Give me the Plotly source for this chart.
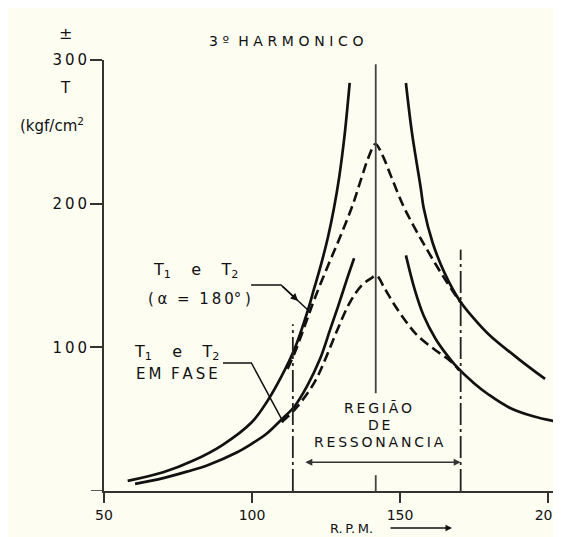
import plotly.graph_objects as go

# ---------------- data ----------------
# undamped, T1 e T2 (alpha = 180 deg) - outer solid curve
rpm_180_left = [58, 70, 80, 90, 100, 105, 110, 114.4, 118.6, 121, 123.5,
                125.7, 127.7, 129.5, 131.3, 133]
T_180_left = [7, 13, 21, 32, 48, 62, 80, 99, 124, 141, 159,
              177, 197, 219, 248, 284]
rpm_180_right = [152, 154, 157, 158, 161, 165, 170, 175, 180, 190, 199]
T_180_right = [284, 250, 211, 197, 173, 152, 133, 120, 109, 92, 78]

# undamped, T1 e T2 em fase - inner solid curve
rpm_fase_left = [60.5, 70, 78, 85, 95, 100, 105, 109.9, 114.4, 118.6, 123,
                 126.5, 129, 132, 134.5]
T_fase_left = [5, 9, 13.5, 18, 27, 33, 40, 49.6, 59, 73, 92,
               113, 128, 147, 162]
rpm_fase_right = [152, 155, 158, 162, 165, 168.5, 175, 180, 187, 195, 203.5]
T_fase_right = [164, 140, 122, 106, 97, 88, 75, 67, 58, 52, 48]

# damped responses (dashed)
rpm_180_damped = [112, 114.4, 118, 121, 125.7, 130, 134, 137, 139.5, 141.7,
                  144, 147, 151, 155, 158.3, 162, 165, 168.5, 171]
T_180_damped = [85, 96, 116, 133, 157, 178, 199, 218, 233, 241.5,
                234, 219, 199, 183, 171, 158, 148, 137, 130]
rpm_fase_damped = [110, 115, 121.2, 125, 129, 133, 137, 140.2, 142,
                   144.8, 148, 152, 156, 162, 167.3, 170]
T_fase_damped = [48, 58, 76, 93, 113, 131, 143, 148, 150,
                 141, 130, 118, 108, 98, 90, 84]

# resonance markers
rpm_resonance = 141.8
rpm_region = [113.8, 170.5]
T_center_low = [0, 11]
T_center_high = [68, 297]
T_left_bound = [0, 116]
T_right_bound = [0, 168]
T_region_arrow = 20
rpm_region_arrow = [117.5, 170.5]

x_ticks = [50, 100, 150, 200]
y_ticks = [100, 200, 300]
y_tick_text = ["1\u20090\u20090", "2\u20090\u20090", "3\u20090\u20090"]

# ---------------- figure ----------------
INK = "#111111"
BG = "#fdfdf2"
FONT = "DejaVu Sans"

fig = go.Figure()

def line(x, y, width=2.7, dash="solid", color=INK, shape="spline"):
    fig.add_trace(go.Scatter(x=x, y=y, mode="lines", line_shape=shape,
                             line=dict(color=color, width=width, dash=dash),
                             hoverinfo="skip", showlegend=False))

line(rpm_180_left, T_180_left)
line(rpm_180_right, T_180_right)
line(rpm_fase_left, T_fase_left)
line(rpm_fase_right, T_fase_right)
line(rpm_180_damped, T_180_damped, width=2.6, dash="10px,5px")
line(rpm_fase_damped, T_fase_damped, width=2.6, dash="10px,5px")

# centre resonance line
line([rpm_resonance] * 2, T_center_low, width=1.8, color="#444", shape="linear")
line([rpm_resonance] * 2, T_center_high, width=1.8, color="#444", shape="linear")
# region bounds
line([rpm_region[0]] * 2, T_left_bound, width=1.8, dash="22px,4px,3px,4px",
     color="#222", shape="linear")
line([rpm_region[1]] * 2, T_right_bound, width=1.8, dash="22px,4px,3px,4px",
     color="#222", shape="linear")

# leader lines for labels (data coords)
line([99.7, 109.8, 118.9], [143.4, 143.4, 126], width=1.5, shape="linear")
line([90.2, 99.8, 110.6], [89.1, 89.1, 47.8], width=1.5, shape="linear")

# x-axis extension left of y-axis
fig.add_shape(type="line", xref="paper", yref="y", x0=-0.028, x1=0, y0=0, y1=0,
              line=dict(color="#333", width=1.6))

W, H = 561, 537
L, R, T, B = 96, 0, 52, 54
pw, ph = W - L - R, H - T - B

def px(x):
    return (x - L) / pw

def py(y):
    return (H - B - y) / ph

def txt(s, x, y, size=15, xanchor="center", yanchor="middle"):
    fig.add_annotation(text=s, x=px(x), y=py(y), xref="paper", yref="paper",
                       showarrow=False, xanchor=xanchor, yanchor=yanchor,
                       font=dict(family=FONT, size=size, color=INK))

sp3 = "\u2004"
txt("3" + sp3 + "º" + "\u00a0" + sp3 + sp3.join("HARMONICO"), 278, 33, 14)
txt("±", 57, 25, 16)
txt("T", 57, 80, 15)
txt("(kgf/cm<sup>2</sup>", 10, 117, 15, xanchor="left")

th = "\u2009"
txt(th.join("REGIÃO"), 370, 400, 14)
txt(th.join("DE"), 371, 417, 14)
txt(th.join("RESSONANCIA"), 371, 434, 14)

nb4 = "\u00a0" * 4
txt("T<sub>1</sub>" + nb4 + "e" + nb4 + "T<sub>2</sub>", 187, 262, 16)
txt("(\u2005α\u00a0\u00a0=\u00a0\u00a01\u20098\u20090°\u2005)", 191, 291, 15)
txt("T<sub>1</sub>" + nb4 + "e" + nb4 + "T<sub>2</sub>", 168, 344, 16)
txt(th.join("EM") + "\u00a0\u00a0" + th.join("FASE"), 169, 366, 15)
txt("R.\u2009P.\u2009M.", 343, 520, 13)

# arrow after R.P.M.
fig.add_annotation(x=px(444), y=py(520), ax=-63, ay=0,
                   xref="paper", yref="paper", axref="pixel", ayref="pixel",
                   text="", showarrow=True, arrowhead=2, arrowsize=1,
                   arrowwidth=1.3, arrowcolor=INK)

# resonance region double arrow
fig.add_annotation(x=rpm_region_arrow[1], y=T_region_arrow,
                   ax=rpm_region_arrow[0], ay=T_region_arrow,
                   xref="x", yref="y", axref="x", ayref="y",
                   text="", showarrow=True, arrowhead=2, arrowside="end+start",
                   arrowsize=1, arrowwidth=1.4, arrowcolor="#333")
# small arrowhead on the alpha=180 leader
fig.add_annotation(x=115.6, y=132.3, ax=109.8, ay=143.4,
                   xref="x", yref="y", axref="x", ayref="y",
                   text="", showarrow=True, arrowhead=2, arrowsize=1,
                   arrowwidth=1.5, arrowcolor=INK)

x_max = 50 + (W - L) / 2.96
fig.update_layout(
    width=W, height=H,
    margin=dict(l=L, r=R, t=T, b=B),
    paper_bgcolor=BG, plot_bgcolor=BG,
    font=dict(family=FONT, color=INK),
    xaxis=dict(range=[50, x_max], tickvals=x_ticks, ticktext=[str(v) for v in x_ticks],
               showgrid=False, zeroline=False, showline=True, linecolor="#333",
               linewidth=1.6, ticks="outside", ticklen=10, tickwidth=1.6,
               tickcolor="#333", tickfont=dict(size=14, family=FONT, color=INK)),
    yaxis=dict(range=[0, 300], tickvals=y_ticks, ticktext=y_tick_text,
               showgrid=False, zeroline=False, showline=True, linecolor="#333",
               linewidth=2, ticks="outside", ticklen=12, tickwidth=1.6,
               tickcolor="#333", tickfont=dict(size=15, family=FONT, color=INK)),
)

fig.write_html("out.html")
